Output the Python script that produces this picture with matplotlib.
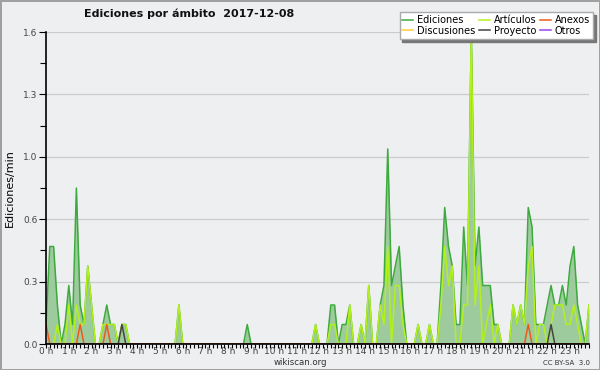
import matplotlib
matplotlib.use('Agg')
import matplotlib.pyplot as plt
from matplotlib.ticker import FixedLocator, MultipleLocator
import numpy as np

# edits per minute, 10-minute bins (12 bins per line = 2 hours)
ediciones = [
    0.1, 0.5, 0.5, 0.2, 0.0, 0.1,   0.3, 0.1, 0.8, 0.2, 0.1, 0.4,
    0.2, 0.0, 0.0, 0.1, 0.2, 0.1,   0.1, 0.0, 0.1, 0.1, 0.0, 0.0,
    0.0, 0.0, 0.0, 0.0, 0.0, 0.0,   0.0, 0.0, 0.0, 0.0, 0.0, 0.2,
    0.0, 0.0, 0.0, 0.0, 0.0, 0.0,   0.0, 0.0, 0.0, 0.0, 0.0, 0.0,
    0.0, 0.0, 0.0, 0.0, 0.0, 0.1,   0.0, 0.0, 0.0, 0.0, 0.0, 0.0,
    0.0, 0.0, 0.0, 0.0, 0.0, 0.0,   0.0, 0.0, 0.0, 0.0, 0.0, 0.1,
    0.0, 0.0, 0.0, 0.2, 0.2, 0.0,   0.1, 0.1, 0.2, 0.0, 0.0, 0.1,
    0.0, 0.3, 0.0, 0.0, 0.2, 0.3,   1.0, 0.3, 0.4, 0.5, 0.2, 0.0,
    0.0, 0.0, 0.1, 0.0, 0.0, 0.1,   0.0, 0.0, 0.3, 0.7, 0.5, 0.4,
    0.1, 0.1, 0.6, 0.3, 1.6, 0.4,   0.6, 0.3, 0.3, 0.3, 0.1, 0.1,
    0.0, 0.0, 0.0, 0.2, 0.1, 0.2,   0.1, 0.7, 0.6, 0.1, 0.1, 0.1,
    0.2, 0.3, 0.2, 0.2, 0.3, 0.2,   0.4, 0.5, 0.2, 0.1, 0.0, 0.2,
]
articulos = [
    0.0, 0.0, 0.0, 0.1, 0.0, 0.0,   0.2, 0.0, 0.2, 0.1, 0.1, 0.4,
    0.2, 0.0, 0.0, 0.1, 0.1, 0.1,   0.1, 0.0, 0.1, 0.1, 0.0, 0.0,
    0.0, 0.0, 0.0, 0.0, 0.0, 0.0,   0.0, 0.0, 0.0, 0.0, 0.0, 0.2,
    0.0, 0.0, 0.0, 0.0, 0.0, 0.0,   0.0, 0.0, 0.0, 0.0, 0.0, 0.0,
    0.0, 0.0, 0.0, 0.0, 0.0, 0.0,   0.0, 0.0, 0.0, 0.0, 0.0, 0.0,
    0.0, 0.0, 0.0, 0.0, 0.0, 0.0,   0.0, 0.0, 0.0, 0.0, 0.0, 0.1,
    0.0, 0.0, 0.0, 0.1, 0.1, 0.0,   0.0, 0.0, 0.2, 0.0, 0.0, 0.1,
    0.0, 0.3, 0.0, 0.0, 0.2, 0.1,   0.5, 0.0, 0.3, 0.3, 0.1, 0.0,
    0.0, 0.0, 0.1, 0.0, 0.0, 0.1,   0.0, 0.0, 0.2, 0.5, 0.3, 0.4,
    0.0, 0.0, 0.2, 0.2, 1.6, 0.2,   0.4, 0.0, 0.1, 0.2, 0.0, 0.1,
    0.0, 0.0, 0.0, 0.2, 0.1, 0.2,   0.1, 0.4, 0.5, 0.0, 0.1, 0.1,
    0.0, 0.1, 0.2, 0.2, 0.2, 0.1,   0.1, 0.2, 0.1, 0.0, 0.0, 0.2,
]
anexos = [
    0.1, 0.0, 0.0, 0.0, 0.0, 0.0,   0.0, 0.0, 0.0, 0.1, 0.0, 0.0,
    0.0, 0.0, 0.0, 0.0, 0.1, 0.0,   0.0, 0.0, 0.0, 0.0, 0.0, 0.0,
    0.0, 0.0, 0.0, 0.0, 0.0, 0.0,   0.0, 0.0, 0.0, 0.0, 0.0, 0.0,
    0.0, 0.0, 0.0, 0.0, 0.0, 0.0,   0.0, 0.0, 0.0, 0.0, 0.0, 0.0,
    0.0, 0.0, 0.0, 0.0, 0.0, 0.0,   0.0, 0.0, 0.0, 0.0, 0.0, 0.0,
    0.0, 0.0, 0.0, 0.0, 0.0, 0.0,   0.0, 0.0, 0.0, 0.0, 0.0, 0.0,
    0.0, 0.0, 0.0, 0.0, 0.0, 0.0,   0.0, 0.0, 0.0, 0.0, 0.0, 0.0,
    0.0, 0.0, 0.0, 0.0, 0.0, 0.0,   0.0, 0.0, 0.0, 0.0, 0.0, 0.0,
    0.0, 0.0, 0.0, 0.0, 0.0, 0.0,   0.0, 0.0, 0.0, 0.0, 0.0, 0.0,
    0.0, 0.0, 0.0, 0.0, 0.0, 0.0,   0.0, 0.0, 0.0, 0.0, 0.0, 0.0,
    0.0, 0.0, 0.0, 0.0, 0.0, 0.0,   0.0, 0.1, 0.0, 0.0, 0.0, 0.0,
    0.0, 0.0, 0.0, 0.0, 0.0, 0.0,   0.0, 0.0, 0.0, 0.0, 0.0, 0.0,
]
proyecto = [
    0.0, 0.0, 0.0, 0.0, 0.0, 0.0,   0.0, 0.0, 0.0, 0.0, 0.0, 0.0,
    0.0, 0.0, 0.0, 0.0, 0.0, 0.0,   0.0, 0.0, 0.1, 0.0, 0.0, 0.0,
    0.0, 0.0, 0.0, 0.0, 0.0, 0.0,   0.0, 0.0, 0.0, 0.0, 0.0, 0.0,
    0.0, 0.0, 0.0, 0.0, 0.0, 0.0,   0.0, 0.0, 0.0, 0.0, 0.0, 0.0,
    0.0, 0.0, 0.0, 0.0, 0.0, 0.0,   0.0, 0.0, 0.0, 0.0, 0.0, 0.0,
    0.0, 0.0, 0.0, 0.0, 0.0, 0.0,   0.0, 0.0, 0.0, 0.0, 0.0, 0.0,
    0.0, 0.0, 0.0, 0.0, 0.0, 0.0,   0.0, 0.0, 0.0, 0.0, 0.0, 0.0,
    0.0, 0.0, 0.0, 0.0, 0.0, 0.0,   0.0, 0.0, 0.0, 0.0, 0.0, 0.0,
    0.0, 0.0, 0.0, 0.0, 0.0, 0.0,   0.0, 0.0, 0.0, 0.0, 0.0, 0.0,
    0.0, 0.0, 0.0, 0.0, 0.0, 0.0,   0.0, 0.0, 0.0, 0.0, 0.0, 0.0,
    0.0, 0.0, 0.0, 0.0, 0.0, 0.0,   0.0, 0.0, 0.0, 0.0, 0.0, 0.0,
    0.0, 0.1, 0.0, 0.0, 0.0, 0.0,   0.0, 0.0, 0.0, 0.0, 0.0, 0.0,
]
discusiones = [0.0] * 144
otros = [0.0] * 144

hour_labels = [f'{h} h' for h in range(24)]
ytick_values = [0.0, 0.32, 0.64, 0.96, 1.28, 1.6]
ytick_labels = ['0.0', '0.3', '0.6', '1.0', '1.3', '1.6']

bg = '#eeeff1'
t = np.arange(len(ediciones)) / 6.0

fig = plt.figure(figsize=(6, 3.7), dpi=100, facecolor=bg,
                 edgecolor='#a0a0a0', linewidth=2)
ax = fig.add_axes([46/600, 26/370, 543/600, 312/370])
ax.set_facecolor(bg)

# lines (Ediciones filled)
ax.fill_between(t, ediciones, 0, color='#9ecb9e', lw=0, zorder=1)
l_ed, = ax.plot(t, ediciones, color='#3daa3d', lw=1.1, zorder=2, label='Ediciones')
l_di, = ax.plot(t, discusiones, color='#ffcc33', lw=1.1, zorder=2, label='Discusiones')
l_ar, = ax.plot(t, articulos, color='#b4f01c', lw=1.1, zorder=3, label='Artículos')
l_pr, = ax.plot(t, proyecto, color='#444444', lw=1.1, zorder=4, label='Proyecto')
l_an, = ax.plot(t, anexos, color='#ee5a1a', lw=1.1, zorder=4, label='Anexos')
l_ot, = ax.plot(t, otros, color='#9944ee', lw=1.1, zorder=2, label='Otros')

ax.set_xlim(0, t[-1])
ax.set_ylim(0, 1.6)

ax.yaxis.set_major_locator(FixedLocator(ytick_values))
ax.set_yticklabels(ytick_labels)
ax.yaxis.set_minor_locator(MultipleLocator(0.16))
ax.set_xticks(range(24))
ax.set_xticklabels(hour_labels)
ax.xaxis.set_minor_locator(MultipleLocator(1/6))

ax.tick_params(axis='both', which='both', direction='out', color='black',
               labelsize=6.5, labelcolor='#444444', width=0.8)
ax.tick_params(axis='y', which='major', length=5, pad=1)
ax.tick_params(axis='y', which='minor', length=4)
ax.tick_params(axis='x', which='both', length=3, pad=-0.5)

ax.grid(axis='y', which='major', color='#cccccc', lw=0.9)
ax.set_axisbelow(True)
for s in ['top', 'right']:
    ax.spines[s].set_visible(False)
for s in ['left', 'bottom']:
    ax.spines[s].set_linewidth(1.2)
    ax.spines[s].set_zorder(5)

ax.set_ylabel('Ediciones/min', fontsize=8, labelpad=6)

fig.text(0.315, 0.963, 'Ediciones por ámbito  2017-12-08', ha='center', va='center',
         fontsize=8, fontweight='bold', color='#111111')
fig.text(0.5, 0.019, 'wikiscan.org', ha='center', va='center', fontsize=6.2, color='#333333')
fig.text(0.983, 0.019, 'CC BY-SA  3.0', ha='right', va='center', fontsize=5, color='#333333')

leg = ax.legend(handles=[l_ed, l_di, l_ar, l_pr, l_an, l_ot], ncol=3, fontsize=7,
                loc='upper right', bbox_to_anchor=(593/600, 1 - 12/370),
                bbox_transform=fig.transFigure, borderaxespad=0,
                fancybox=False, shadow={'color': '#777777', 'alpha': 1.0},
                edgecolor='#aaaaaa', facecolor='white', framealpha=1,
                handlelength=1.1, handletextpad=0.4, columnspacing=0.4,
                labelspacing=0.1, borderpad=0.3)
leg.set_zorder(10)

fig.savefig('out.png', dpi=100, facecolor=bg)
